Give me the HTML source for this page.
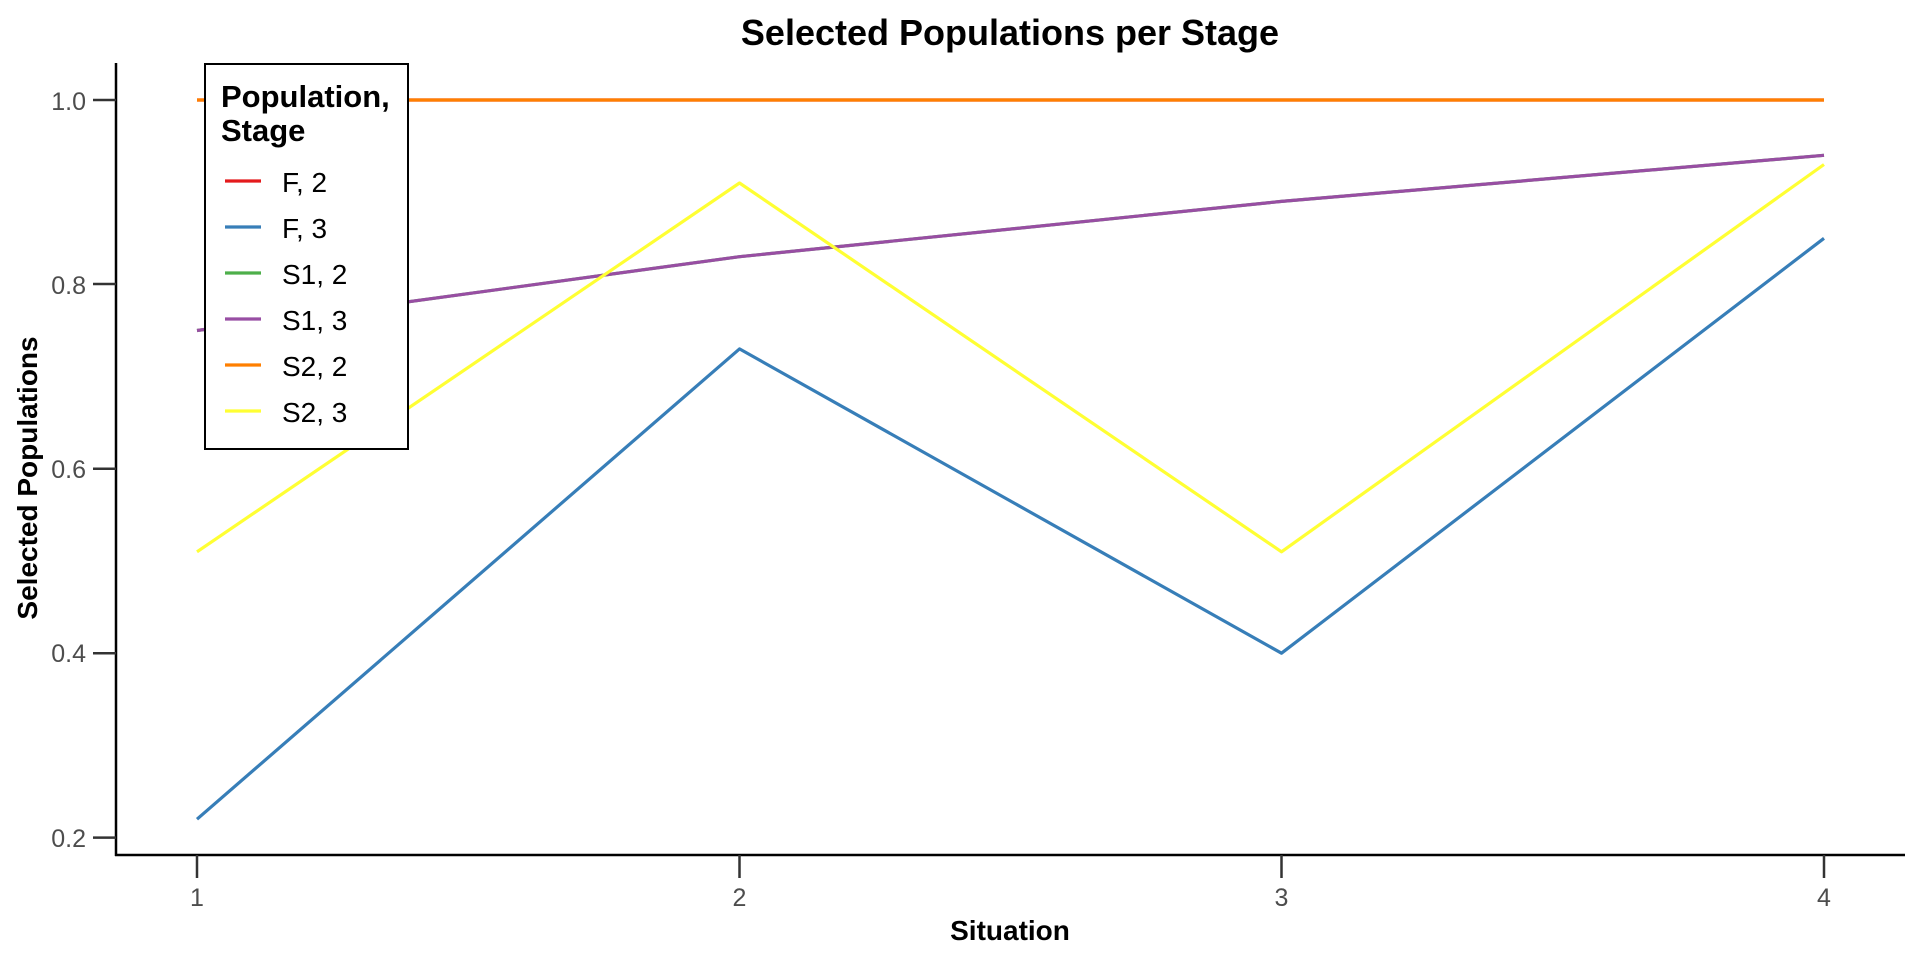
<!DOCTYPE html>
<html><head><meta charset="utf-8"><style>
body{margin:0;background:#fff;}
svg{display:block;font-family:"Liberation Sans",Arial,sans-serif;}
</style></head><body>
<svg width="1920" height="960" viewBox="0 0 1920 960" xmlns="http://www.w3.org/2000/svg">
<rect width="1920" height="960" fill="#fff"/>
<text x="1010" y="45" text-anchor="middle" font-size="36" font-weight="bold">Selected Populations per Stage</text>
<g fill="none" stroke-width="3.2" stroke-linejoin="round">
<polyline stroke="#E41A1C" points="197,100 739.5,100 1281.5,100 1824,100"/>
<polyline stroke="#377EB8" points="197,819.2 739.5,348.9 1281.5,653.2 1824,238.3"/>
<polyline stroke="#4DAF4A" points="197,330.5 739.5,256.7 1281.5,201.4 1824,155.3"/>
<polyline stroke="#984EA3" points="197,330.5 739.5,256.7 1281.5,201.4 1824,155.3"/>
<polyline stroke="#FF7F00" points="197,100 739.5,100 1281.5,100 1824,100"/>
<polyline stroke="#FFFF33" points="197,551.8 739.5,183 1281.5,551.8 1824,164.5"/>
</g>
<g stroke="#000" stroke-width="2.5" fill="none">
<line x1="116" y1="63" x2="116" y2="856"/>
<line x1="115" y1="855" x2="1905" y2="855"/>
</g>
<g stroke="#333" stroke-width="2.5">
<line x1="93" y1="100" x2="116" y2="100"/>
<line x1="93" y1="284" x2="116" y2="284"/>
<line x1="93" y1="468.8" x2="116" y2="468.8"/>
<line x1="93" y1="653.2" x2="116" y2="653.2"/>
<line x1="93" y1="837.6" x2="116" y2="837.6"/>
<line x1="197" y1="855" x2="197" y2="878"/>
<line x1="739.5" y1="855" x2="739.5" y2="878"/>
<line x1="1281.5" y1="855" x2="1281.5" y2="878"/>
<line x1="1824" y1="855" x2="1824" y2="878"/>
</g>
<g fill="#4d4d4d" font-size="25" text-anchor="end">
<text x="86" y="110">1.0</text>
<text x="86" y="294">0.8</text>
<text x="86" y="478">0.6</text>
<text x="86" y="662">0.4</text>
<text x="86" y="847">0.2</text>
</g>
<g fill="#4d4d4d" font-size="25" text-anchor="middle">
<text x="197" y="906">1</text>
<text x="739.5" y="906">2</text>
<text x="1281.5" y="906">3</text>
<text x="1824" y="906">4</text>
</g>
<text x="1010" y="940" text-anchor="middle" font-size="28" font-weight="bold">Situation</text>
<text transform="translate(37,478) rotate(-90)" text-anchor="middle" font-size="28" font-weight="bold">Selected Populations</text>
<rect x="205" y="64" width="203" height="385" fill="#fff" stroke="#000" stroke-width="2"/>
<text x="221" y="107" font-size="31" font-weight="bold">Population,</text>
<text x="221" y="141" font-size="31" font-weight="bold">Stage</text>
<g stroke-width="3.2">
<line x1="225" y1="181" x2="261" y2="181" stroke="#E41A1C"/>
<line x1="225" y1="227" x2="261" y2="227" stroke="#377EB8"/>
<line x1="225" y1="273" x2="261" y2="273" stroke="#4DAF4A"/>
<line x1="225" y1="319" x2="261" y2="319" stroke="#984EA3"/>
<line x1="225" y1="365" x2="261" y2="365" stroke="#FF7F00"/>
<line x1="225" y1="411" x2="261" y2="411" stroke="#FFFF33"/>
</g>
<g font-size="28" fill="#000">
<text x="282" y="192">F, 2</text>
<text x="282" y="238">F, 3</text>
<text x="282" y="284">S1, 2</text>
<text x="282" y="330">S1, 3</text>
<text x="282" y="376">S2, 2</text>
<text x="282" y="422">S2, 3</text>
</g>
</svg>
</body></html>
